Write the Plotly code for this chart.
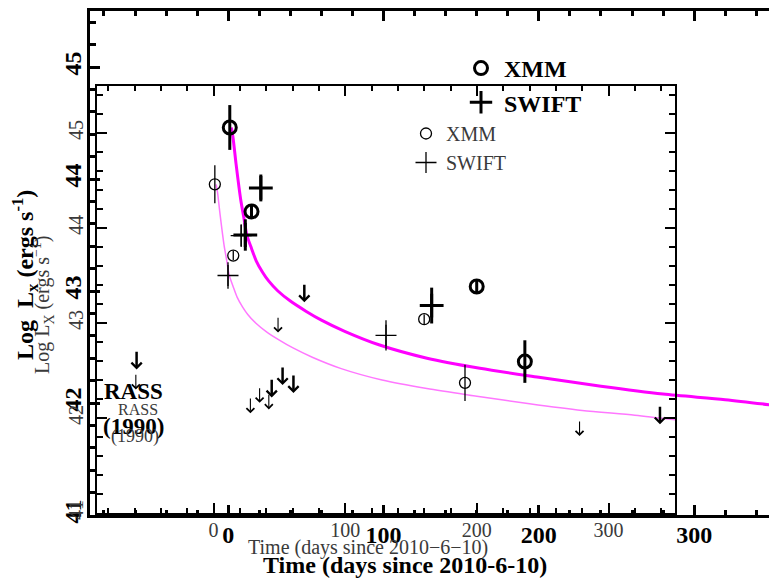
import plotly.graph_objects as go

# ---------------- data ----------------
xmm_day = [1, 15, 160, 191]
xmm_L = [44.46, 43.71, 43.04, 42.37]
xmm_err = [0.20, 0.05, 0.05, 0.19]

swift_day = [11, 21, 131]
swift_L = [43.50, 43.92, 42.87]
swift_err = [0.14, 0.12, 0.16]

# SWIFT upper limits (arrows)
ul_day = [28, 35, 42, 49, 278]
ul_L = [42.22, 42.33, 42.26, 43.07, 41.98]

# RASS (1990) upper limit
rass_day = [-59]
rass_L = [42.47]

# fitted decay curve
fit_day = [2, 3, 5, 8, 10, 12, 15, 18, 22, 26, 32, 40, 50, 60, 75, 97, 128,
           162, 200, 240, 280, 320, 351]
fit_L = [44.46, 44.38, 44.14, 43.82, 43.66, 43.50, 43.38, 43.27, 43.17, 43.09,
         43.00, 42.91, 42.82, 42.74, 42.64, 42.52, 42.40, 42.31, 42.23, 42.15,
         42.08, 42.03, 41.98]

x_title = "Time (days since 2010-6-10)"
x_title_thin = "Time (days since 2010\u22126\u221210)"
y_title = "Log  L<sub>x</sub> (ergs s<sup>-1</sup>)"
y_title_thin = "Log L<sub>X</sub> (ergs s<sup>\u22121</sup>)"
ul_len = 0.17

W, H = 769, 579
FONT = "Liberation Serif"
THIN_C = "#3a3a3a"


def px(p):
    return p / W


def py(p):
    return 1 - p / H


fig = go.Figure()

# ---------------- the two copies: big (bold) and thin ----------------
styles = {
    "big": dict(xa="x", ya="y", curve=dict(color="#ff00ff", width=3),
                lw=3, circ=13, cross=17, leg="legend", arw=2.5, asz=0.8),
    "thin": dict(xa="x2", ya="y2", curve=dict(color="#ff77ff", width=1.5),
                 lw=1.3, circ=11, cross=15, leg="legend2", arw=1.1, asz=1.4),
}

for key, s in styles.items():
    fig.add_trace(go.Scatter(x=fit_day, y=fit_L, mode="lines",
                             line=dict(shape="spline", smoothing=0.8,
                                       **s["curve"]),
                             showlegend=False, hoverinfo="skip",
                             xaxis=s["xa"], yaxis=s["ya"]))
    fig.add_trace(go.Scatter(
        x=xmm_day, y=xmm_L, mode="markers", name="XMM",
        error_y=dict(type="data", array=xmm_err, color="black",
                     thickness=s["lw"], width=0),
        marker=dict(symbol="circle-open", size=s["circ"], color="black",
                    line=dict(width=s["lw"], color="black")),
        legend=s["leg"], xaxis=s["xa"], yaxis=s["ya"]))
    fig.add_trace(go.Scatter(
        x=swift_day, y=swift_L, mode="markers", name="SWIFT",
        error_y=dict(type="data", array=swift_err, color="black",
                     thickness=s["lw"], width=0),
        marker=dict(symbol="cross-thin-open", size=s["cross"], color="black",
                    line=dict(width=s["lw"], color="black")),
        legend=s["leg"], xaxis=s["xa"], yaxis=s["ya"]))
    for d, L in list(zip(ul_day, ul_L)) + list(zip(rass_day, rass_L)):
        fig.add_annotation(x=d, y=L - ul_len, ax=d, ay=L,
                           xref=s["xa"], yref=s["ya"],
                           axref=s["xa"], ayref=s["ya"],
                           text="", showarrow=True, arrowhead=4,
                           arrowwidth=s["arw"], arrowsize=s["asz"],
                           arrowcolor="black", standoff=0, startstandoff=0)

# RASS labels
fig.add_annotation(x=-61, y=42.10, xref="x", yref="y", text="RASS",
                   showarrow=False,
                   font=dict(family=FONT, size=23, color="black", weight="bold"))
fig.add_annotation(x=-61, y=41.79, xref="x", yref="y", text="(1990)",
                   showarrow=False,
                   font=dict(family=FONT, size=23, color="black", weight="bold"))
fig.add_annotation(x=-57, y=42.09, xref="x2", yref="y2", text="RASS",
                   showarrow=False,
                   font=dict(family=FONT, size=16, color=THIN_C))
fig.add_annotation(x=-60, y=41.81, xref="x2", yref="y2", text="(1990)",
                   showarrow=False,
                   font=dict(family=FONT, size=18, color=THIN_C))

# axis titles
title_kw = dict(xref="paper", yref="paper", showarrow=False,
                xanchor="center", yanchor="middle")
fig.add_annotation(x=px(405), y=py(565), text=x_title,
                   font=dict(family=FONT, size=24, color="black", weight="bold"),
                   **title_kw)
fig.add_annotation(x=px(368), y=py(547), text=x_title_thin,
                   font=dict(family=FONT, size=20, color=THIN_C), **title_kw)
fig.add_annotation(x=px(25), y=py(275), text=y_title, textangle=-90,
                   font=dict(family=FONT, size=24, color="black", weight="bold"),
                   **title_kw)
fig.add_annotation(x=px(43), y=py(305), text=y_title_thin, textangle=-90,
                   font=dict(family=FONT, size=20, color=THIN_C), **title_kw)

big_font = dict(family=FONT, size=24, color="black", weight="bold")
thin_font = dict(family=FONT, size=20, color=THIN_C)

common = dict(showgrid=False, zeroline=False, showline=True,
              linecolor="black", ticks="inside", tickcolor="black",
              automargin=False)

fig.update_layout(
    template="none",
    width=W, height=H, margin=dict(l=0, r=0, t=0, b=0, autoexpand=False),
    paper_bgcolor="white", plot_bgcolor="rgba(0,0,0,0)",
    xaxis=dict(domain=[px(90), 1], range=[-89, 348.2], dtick=100, tick0=0,
               linewidth=3, mirror="ticks", ticklen=10, tickwidth=3,
               tickfont=dict(big_font), ticklabelstandoff=-4,
               minor=dict(dtick=20, ticks="inside", ticklen=5, tickwidth=3,
                          tickcolor="black"),
               anchor="y", **common),
    yaxis=dict(domain=[py(515), py(11)], range=[41, 45.5], dtick=1, tick0=41,
               linewidth=3, ticklen=10, tickwidth=3,
               tickfont=dict(big_font), tickangle=-90, ticklabelstandoff=-4,
               minor=dict(dtick=0.2, ticks="inside", ticklen=6, tickwidth=3,
                          tickcolor="black"),
               anchor="x", **common),
    xaxis2=dict(domain=[px(97), px(675)], range=[-88.5, 350.5], dtick=100,
                tick0=0, linewidth=2, mirror="ticks", ticklen=10, tickwidth=2,
                tickfont=dict(thin_font), ticklabelstandoff=-2,
                minor=dict(dtick=20, ticks="inside", ticklen=5, tickwidth=2,
                           tickcolor="black"),
                anchor="y2", **common),
    yaxis2=dict(domain=[py(513), py(85.5)], range=[41, 45.5], dtick=1,
                tick0=41, linewidth=2, mirror="ticks", ticklen=10, tickwidth=2,
                tickfont=dict(thin_font), tickangle=-90, ticklabelstandoff=4,
                minor=dict(dtick=0.2, ticks="inside", ticklen=6, tickwidth=2,
                           tickcolor="black"),
                anchor="x2", **common),
    legend=dict(x=px(458), y=py(46), xanchor="left", yanchor="top",
                bgcolor="rgba(0,0,0,0)", font=dict(big_font),
                itemsizing="trace", itemwidth=36),
    legend2=dict(x=px(406), y=py(114), xanchor="left", yanchor="top",
                 bgcolor="rgba(0,0,0,0)", font=dict(thin_font),
                 itemsizing="trace", tracegroupgap=0),
    showlegend=True,
)

fig.write_html("out.html")
